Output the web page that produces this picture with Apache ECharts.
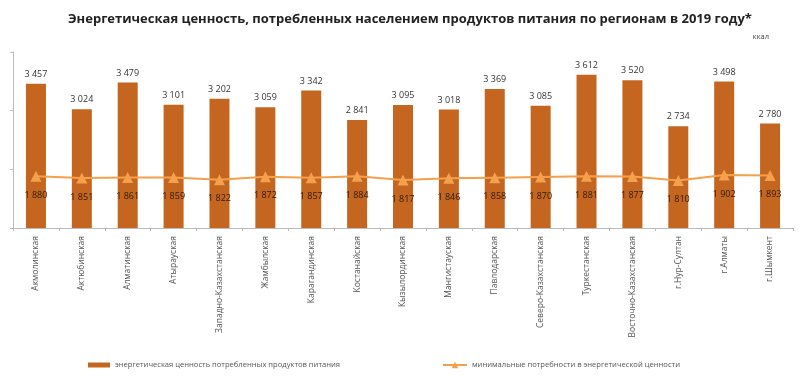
<!DOCTYPE html>
<html>
<head>
<meta charset="utf-8">
<script src="https://cdn.jsdelivr.net/npm/echarts@6/dist/echarts.min.js"></script>
<style>
  html, body { margin: 0; padding: 0; background: #fff; }
  #chart { width: 800px; height: 378px; }
</style>
</head>
<body>
<div id="chart"></div>
<script>
const regions = [
  "Акмолинская", "Актюбинская", "Алматинская", "Атырауская",
  "Западно-Казахстанская", "Жамбылская", "Карагандинская", "Костанайская",
  "Кызылординская", "Мангистауская", "Павлодарская", "Северо-Казахстанская",
  "Туркестанская", "Восточно-Казахстанская", "г.Нур-Султан", "г.Алматы", "г.Шымкент"
];
const consumed = [3457, 3024, 3479, 3101, 3202, 3059, 3342, 2841, 3095, 3018, 3369, 3085, 3612, 3520, 2734, 3498, 2780];
const minimal = [1880, 1851, 1861, 1859, 1822, 1872, 1857, 1884, 1817, 1846, 1858, 1870, 1881, 1877, 1810, 1902, 1893];

const barName = "энергетическая ценность потребленных продуктов питания";
const lineName = "минимальные потребности в энергетической ценности";

const fmt = (v) => String(v).replace(/\B(?=(\d{3})+(?!\d))/g, " ");

const chart = echarts.init(document.getElementById("chart"));
chart.setOption({
  animation: false,
  textStyle: { fontFamily: "Open Sans, sans-serif" },
  title: [
    {
      text: "Энергетическая ценность, потребленных населением продуктов питания по регионам в 2019 году*",
      left: 63,
      top: 8,
      textStyle: { fontSize: 13, fontWeight: "bold", color: "#222" },
    },
    {
      text: "ккал",
      right: 26,
      top: 28,
      textStyle: { fontSize: 7.5, fontWeight: "normal", color: "#444" },
    },
  ],
  legend: [
    {
      data: [barName],
      left: 83,
      bottom: 4,
      itemWidth: 22,
      itemHeight: 5,
      icon: "rect",
      textStyle: { fontSize: 7.6, color: "#555" },
    },
    {
      data: [lineName],
      left: 437,
      bottom: 4,
      itemWidth: 24,
      itemHeight: 8,
      textStyle: { fontSize: 7.6, color: "#555" },
    },
  ],
  grid: { left: 13, right: 7, top: 52, bottom: 150 },
  xAxis: {
    type: "category",
    data: regions,
    axisLine: { lineStyle: { color: "#bbb" } },
    axisTick: { show: true, length: 3, lineStyle: { color: "#bbb" } },
    axisLabel: { rotate: 90, fontSize: 8.5, color: "#555", interval: 0, margin: 8 },
  },
  yAxis: {
    type: "value",
    min: 1000,
    max: 4000,
    interval: 1000,
    axisLine: { show: true, lineStyle: { color: "#bbb" } },
    axisTick: { show: true, length: 3, lineStyle: { color: "#bbb" } },
    axisLabel: { show: false },
    splitLine: { show: false },
  },
  series: [
    {
      name: barName,
      type: "bar",
      data: consumed,
      barWidth: 20,
      itemStyle: { color: "#c4661f" },
      label: {
        show: true,
        position: "top",
        distance: 5,
        fontSize: 9,
        color: "#333",
        formatter: (p) => fmt(p.value),
      },
    },
    {
      name: lineName,
      type: "line",
      data: minimal,
      symbol: "triangle",
      symbolSize: 11,
      lineStyle: { color: "#f5a04c", width: 2 },
      itemStyle: { color: "#f5a04c" },
      label: {
        show: true,
        position: "bottom",
        distance: 9,
        fontSize: 9,
        color: "#2e1a08",
        formatter: (p) => fmt(p.value),
      },
    },
  ],
});
</script>
</body>
</html>
